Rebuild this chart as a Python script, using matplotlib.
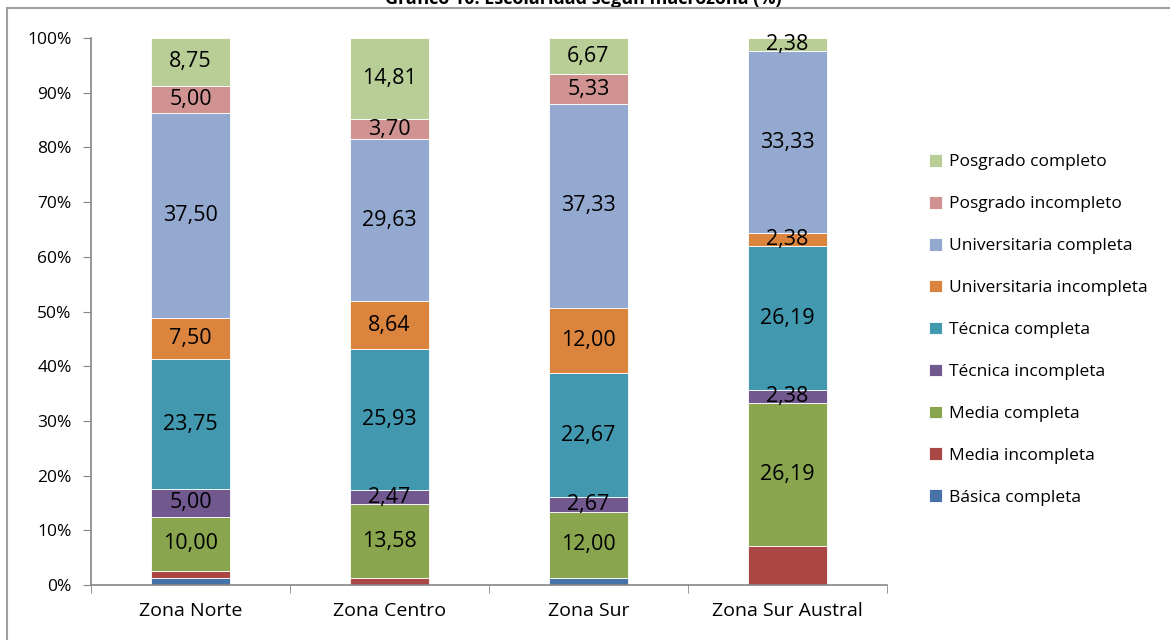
import matplotlib
matplotlib.use("Agg")
import matplotlib.pyplot as plt
from matplotlib.patches import Rectangle
import numpy as np

plt.rcParams['font.family'] = ['Open Sans', 'DejaVu Sans']

zonas = ["Zona Norte", "Zona Centro", "Zona Sur", "Zona Sur Austral"]
series = ["Básica completa", "Media incompleta", "Media completa", "Técnica incompleta",
          "Técnica completa", "Universitaria incompleta", "Universitaria completa",
          "Posgrado incompleto", "Posgrado completo"]
basica_completa = [1.25, 0.00, 1.33, 0.00]
media_incompleta = [1.25, 1.23, 0.00, 7.14]
media_completa = [10.00, 13.58, 12.00, 26.19]
tecnica_incompleta = [5.00, 2.47, 2.67, 2.38]
tecnica_completa = [23.75, 25.93, 22.67, 26.19]
univ_incompleta = [7.50, 8.64, 12.00, 2.38]
univ_completa = [37.50, 29.63, 37.33, 33.33]
posgrado_incompleto = [5.00, 3.70, 5.33, 0.00]
posgrado_completo = [8.75, 14.81, 6.67, 2.38]
values = [basica_completa, media_incompleta, media_completa, tecnica_incompleta,
          tecnica_completa, univ_incompleta, univ_completa, posgrado_incompleto,
          posgrado_completo]
# which segments carry a data label (per series, per zone)
show_label = [
    [False, False, False, False],
    [False, False, False, False],
    [True, True, True, True],
    [True, True, True, True],
    [True, True, True, True],
    [True, True, True, True],
    [True, True, True, True],
    [True, True, True, False],
    [True, True, True, True],
]
colors = ["#4572A7", "#AA4643", "#89A54E", "#71588F", "#4198AF", "#DB843D",
          "#93A9CF", "#D19392", "#B9CD96"]

fig = plt.figure(figsize=(11.7, 6.4), dpi=100)
ax = fig.add_axes([91/1170, 55/640, 796/1170, 547/640])

x = np.arange(len(zonas))
bottom = np.zeros(len(zonas))
handles = []
for s, vals, col, lab in zip(series, values, colors, show_label):
    v = np.array(vals)
    h = ax.bar(x, v, 0.4, bottom=bottom, color=col, edgecolor="white", linewidth=0.6, label=s)
    handles.append(h)
    for i in range(len(zonas)):
        if lab[i]:
            ax.text(x[i], bottom[i] + v[i] / 2, f"{v[i]:.2f}".replace(".", ","),
                    ha="center", va="center", fontsize=15.5, color="black")
    bottom += v

ax.set_xlim(-0.5, len(zonas) - 0.5)
ax.set_ylim(0, 100)
ax.set_yticks(np.arange(0, 101, 10))
ax.set_yticklabels([f"{t}%" for t in range(0, 101, 10)], fontsize=12.5)
ax.set_xticks(x)
ax.set_xticklabels(zonas, fontsize=14)
ax.set_xticks(np.arange(-0.5, len(zonas), 1), minor=True)
ax.tick_params(axis="x", which="major", length=0, pad=12)
ax.tick_params(axis="x", which="minor", length=6, color="#868686", direction="out")
ax.tick_params(axis="y", length=6, color="#868686", direction="out", pad=8)
for side in ["top", "right"]:
    ax.spines[side].set_visible(False)
for side in ["left", "bottom"]:
    ax.spines[side].set_color("#868686")
    ax.spines[side].set_linewidth(1.2)

leg = fig.legend(handles[::-1], series[::-1], loc="upper left",
                 bbox_to_anchor=(922/1170, 1 - 147/640), frameon=False,
                 fontsize=12.5, handlelength=0.75, handleheight=0.75, handletextpad=0.4,
                 labelspacing=1.47, borderaxespad=0)

# outer chart-area border (only top and left visible)
fig.patches.append(Rectangle((7/1170, -0.1), 1.2, 1 - 8/640 + 0.1, transform=fig.transFigure,
                             fill=False, edgecolor="#A0A0A0", linewidth=1.5, zorder=5))

fig.text(583/1170, 1 - 4/640, "Gráfico 10: Escolaridad según macrozona (%)",
         ha="center", va="baseline", fontsize=13, fontweight="bold")

fig.savefig("out.png", dpi=100)
